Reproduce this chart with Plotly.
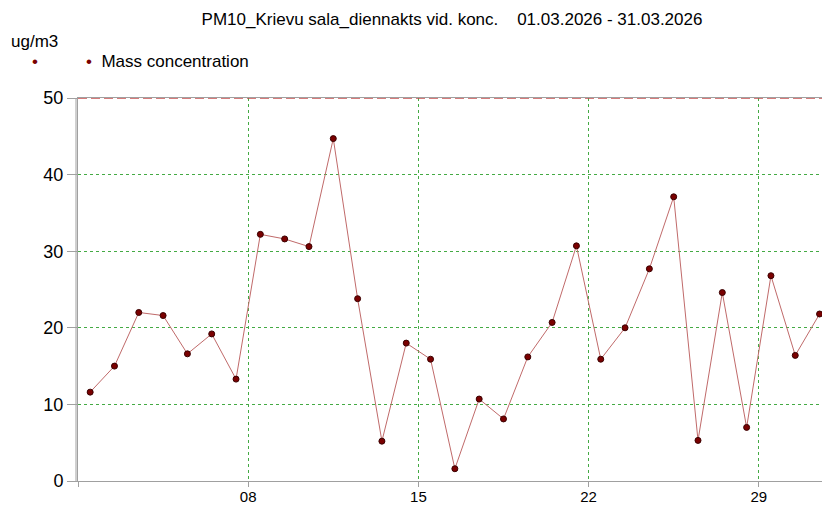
import plotly.graph_objects as go

DAYS = list(range(1, 32))
PM10 = [11.6, 15.0, 22.0, 21.6, 16.6, 19.2, 13.3, 32.2, 31.6, 30.6, 44.7,
        23.8, 5.2, 18.0, 15.9, 1.6, 10.7, 8.1, 16.2, 20.7, 30.7, 15.9,
        20.0, 27.7, 37.1, 5.3, 24.6, 7.0, 26.8, 16.4, 21.8]
LIMIT = 50
TICK_DAYS = [1, 8, 15, 22, 29]
TICK_TEXT = ["", "08", "15", "22", "29"]
Y_TICKS = [0, 10, 20, 30, 40, 50]
SERIES_NAME = "Mass concentration"
UNIT = "ug/m3"
TITLE = "PM10_Krievu sala_diennakts vid. konc.&nbsp;&nbsp;&nbsp;&nbsp;01.03.2026 - 31.03.2026"

x = [f"2026-03-{d:02d} 12:00" for d in DAYS]
tickvals = [f"2026-03-{d:02d} 00:00" for d in TICK_DAYS]

FONT = "Liberation Sans, Arial, sans-serif"
MARK = "#7a0000"

fig = go.Figure()
fig.add_trace(go.Scatter(x=x, y=PM10, mode="lines+markers",
                         name=SERIES_NAME, showlegend=False,
                         line=dict(color="#c06a6a", width=1),
                         marker=dict(size=6, color=MARK,
                                     line=dict(color="#3a0000", width=1))))

fig.add_shape(type="line", xref="paper", x0=0, x1=1, yref="y",
              y0=LIMIT, y1=LIMIT,
              line=dict(color="#c85050", width=1.3, dash="9px,4px"))
fig.add_shape(type="line", xref="paper", xsizemode="pixel", xanchor=0,
              x0=-2, x1=-2, yref="paper", y0=0, y1=1,
              line=dict(color="#a0a0a0", width=1))

PW, PH = 744, 383

def px_x(px):
    return (px - 78) / PW

def px_y(py):
    return (481 - py) / PH

fig.update_layout(
    width=822, height=506,
    margin=dict(l=78, r=0, t=98, b=25, autoexpand=False),
    paper_bgcolor="white", plot_bgcolor="white",
    font=dict(family=FONT, size=17, color="black"),
    title=dict(text=TITLE,
               x=452 / 822, xref="container", xanchor="center",
               y=1 - 19 / 506, yref="container", yanchor="middle",
               font=dict(family=FONT, size=17, color="black")),
    showlegend=False,
    annotations=[
        dict(text=UNIT, xref="paper", yref="paper", x=px_x(9), y=px_y(41),
             xanchor="left", yanchor="middle", showarrow=False,
             font=dict(family=FONT, size=17)),
        dict(text=f"<span style='color:{MARK}'>•</span>", xref="paper", yref="paper",
             x=px_x(35), y=px_y(61), xanchor="center", yanchor="middle",
             showarrow=False, font=dict(family=FONT, size=17)),
        dict(text=f"<span style='color:{MARK}'>•</span>&nbsp; {SERIES_NAME}",
             xref="paper", yref="paper",
             x=px_x(84), y=px_y(61), xanchor="left", yanchor="middle",
             showarrow=False, font=dict(family=FONT, size=17)),
    ],
)

fig.update_xaxes(
    type="date",
    range=["2026-03-01 00:00", "2026-03-31 14:24"],
    tickvals=tickvals, ticktext=TICK_TEXT,
    ticks="outside", ticklen=5, tickcolor="#a0a0a0",
    ticklabelstandoff=-3,
    showline=True, linecolor="#a0a0a0", linewidth=1, mirror=True,
    showgrid=True, gridcolor="#44aa44", griddash="dot", gridwidth=1,
    zeroline=False, tickfont=dict(size=15),
)
fig.update_yaxes(
    range=[0, 50], tickvals=Y_TICKS,
    ticks="outside", ticklen=10, tickcolor="#a0a0a0",
    showline=True, linecolor="#a0a0a0", linewidth=1,
    showgrid=True, gridcolor="#44aa44", griddash="dot", gridwidth=1,
    zeroline=False, tickfont=dict(size=18),
)

fig.write_html("out.html",
               config={"displayModeBar": False},
               post_script="document.body.style.margin='0';"
                           "document.body.style.overflow='hidden';")
